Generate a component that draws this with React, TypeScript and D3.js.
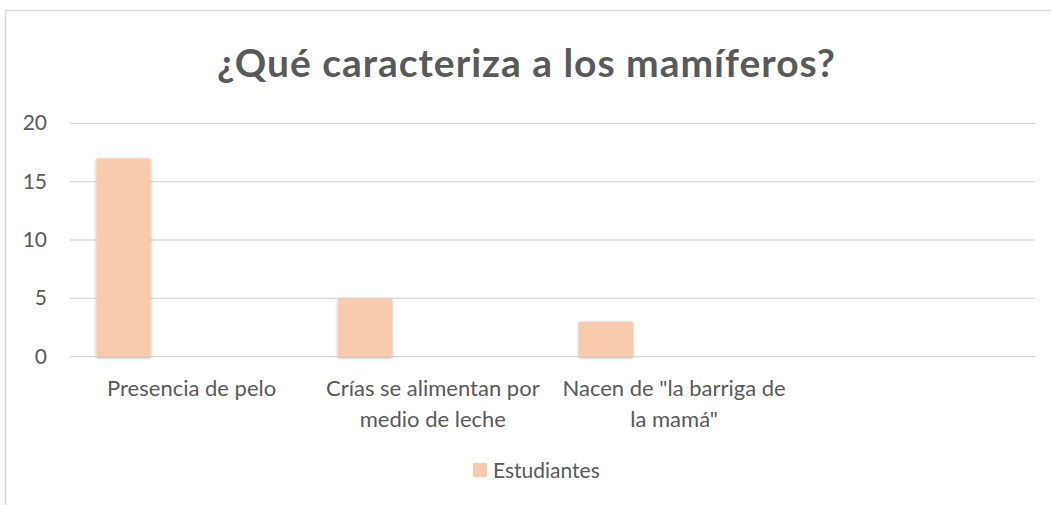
import React from "react";
import * as d3 from "d3";

const categories: string[][] = [
  ["Presencia de pelo"],
  ["Crías se alimentan por", "medio de leche"],
  ["Nacen de \"la barriga de", "la mamá\""],
  [""],
];
const values: (number | null)[] = [17, 5, 3, null];
const yTicks = [0, 5, 10, 15, 20];
const title = "¿Qué caracteriza a los mamíferos?";
const seriesName = "Estudiantes";

const W = 1051;
const H = 505;
const FONT = "Lato, 'Open Sans', sans-serif";

export default function App() {
  const x = d3
    .scaleBand<number>()
    .domain(categories.map((_, i) => i))
    .range([70, 1035])
    .paddingInner(0)
    .paddingOuter(0);
  const y = d3.scaleLinear().domain([0, 20]).range([356.7, 123.3]);
  const bw = x.bandwidth();
  const barOffset = bw * 0.11;
  const barW = bw * 0.224;

  return (
    <svg
      width={W}
      height={H}
      style={{ position: "absolute", left: 0, top: 0, background: "#fff" }}
      fontFamily={FONT}
    >
      <defs>
        <filter id="sh" x="-20%" y="-10%" width="140%" height="120%">
          <feDropShadow dx="0" dy="1" stdDeviation="1.5" floodColor="#000" floodOpacity="0.35" />
        </filter>
      </defs>
      <rect x={0} y={0} width={W} height={H} fill="#fff" />
      <path d={`M5.5,${H + 1} V10.5 H${W + 1}`} fill="none" stroke="#d9d9d9" strokeWidth={1.5} />
      <text
        x={526}
        y={77}
        textAnchor="middle"
        fontSize={39}
        fontWeight="bold"
        fill="#595959"
        textLength={618}
        lengthAdjust="spacing"
      >
        {title}
      </text>
      {yTicks.map((t) => (
        <g key={t}>
          <line x1={70} x2={1035} y1={y(t)} y2={y(t)} stroke="#d9d9d9" strokeWidth={1.3} />
          <text x={47} y={y(t) + 7} textAnchor="end" fontSize={21} fill="#595959">
            {t}
          </text>
        </g>
      ))}
      {values.map((v, i) =>
        v == null ? null : (
          <rect
            key={i}
            x={(x(i) as number) + barOffset}
            y={y(v)}
            width={barW}
            height={y(0) - y(v)}
            fill="#F8CBAD"
            filter="url(#sh)"
          />
        )
      )}
      {categories.map((lines, i) => (
        <text
          key={i}
          x={(x(i) as number) + bw / 2 + 1}
          textAnchor="middle"
          fontSize={22}
          fill="#595959"
        >
          {lines.map((l, j) => (
            <tspan key={j} x={(x(i) as number) + bw / 2 + 1} y={396 + j * 31}>
              {l}
            </tspan>
          ))}
        </text>
      ))}
      <rect x={473} y={463} width={14} height={14} fill="#F8CBAD" />
      <text x={493} y={478} fontSize={21} fill="#595959">
        {seriesName}
      </text>
    </svg>
  );
}
